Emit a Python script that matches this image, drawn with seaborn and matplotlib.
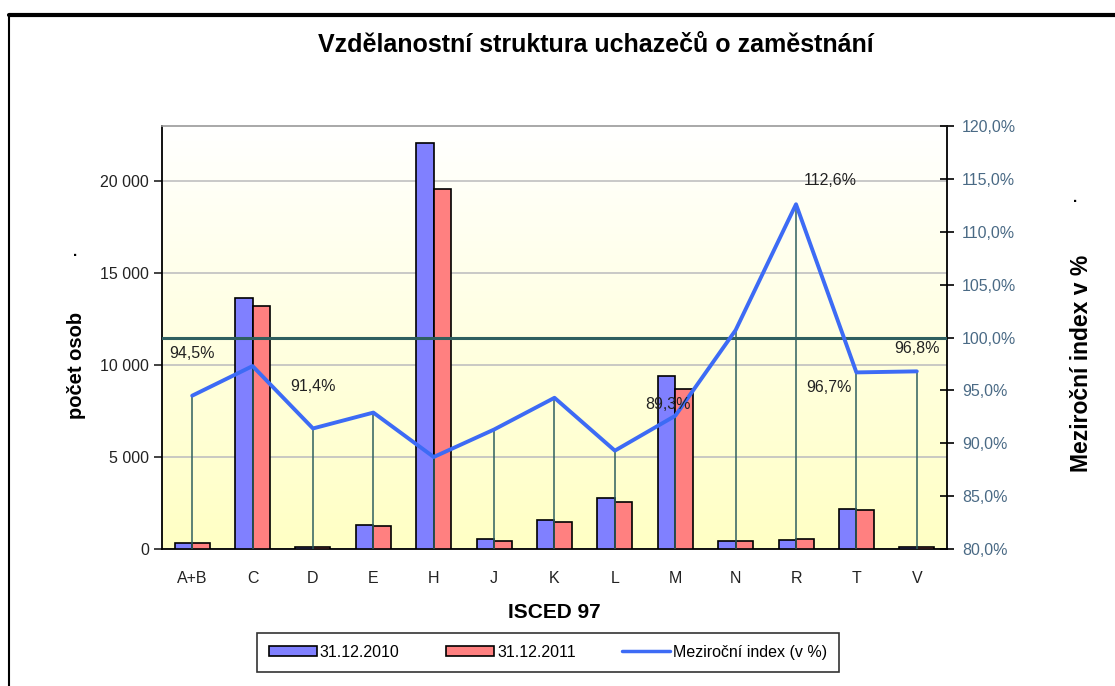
import numpy as np
import pandas as pd
import matplotlib
matplotlib.use('Agg')
import matplotlib.pyplot as plt
from matplotlib.lines import Line2D
from matplotlib.patches import Patch
from matplotlib.ticker import FuncFormatter, FixedLocator
import seaborn as sns

# Data
categories = ['A+B', 'C', 'D', 'E', 'H', 'J', 'K', 'L', 'M', 'N', 'R', 'T', 'V']
count_2010 = [350, 13650, 120, 1320, 22100, 540, 1580, 2790, 9400, 440, 470, 2190, 100]
count_2011 = [330, 13220, 110, 1230, 19560, 440, 1490, 2540, 8710, 430, 530, 2120, 95]
index_pct = [94.5, 97.3, 91.4, 92.9, 88.7, 91.3, 94.3, 89.3, 92.6, 100.7, 112.6, 96.7, 96.8]
labelled = {0: (0, 25), 2: (0, 25), 7: (38, 28), 10: (25, 12), 11: (-20, -16), 12: (0, 11)}

df = pd.DataFrame({
    'kategorie': categories * 2,
    'pocet': count_2010 + count_2011,
    'stav': ['31.12.2010'] * len(categories) + ['31.12.2011'] * len(categories),
})

sns.set_style('white')
plt.rcParams['font.family'] = ['Liberation Sans', 'DejaVu Sans']
plt.rcParams['text.color'] = 'black'
plt.rcParams['axes.labelcolor'] = 'black'

fig = plt.figure(figsize=(11.15, 6.86), dpi=100)
ax = fig.add_axes([0.1453, 0.1997, 0.704, 0.6166])

blue = '#8080FF'
red = '#FF8080'
line_col = '#3D6BF5'
teal = '#2F5F5F'

# plot area gradient, white to pale yellow
grad = np.linspace(0, 1, 256).reshape(-1, 1)
cmap = matplotlib.colors.LinearSegmentedColormap.from_list('bg', ['#FFFFFF', '#FFFFC4'])
ax.imshow(grad, extent=[-0.5, 12.5, 0, 23000], aspect='auto', cmap=cmap, origin='upper', zorder=0)

sns.barplot(data=df, x='kategorie', y='pocet', hue='stav', palette=[blue, red], saturation=1,
            width=0.58, edgecolor='black', linewidth=1.2, ax=ax, legend=False, zorder=3)

ax.set_xlim(-0.5, 12.5)
ax.set_ylim(0, 23000)
ax.set_yticks([0, 5000, 10000, 15000, 20000])
ax.yaxis.set_major_formatter(FuncFormatter(lambda v, p: f'{int(v):,}'.replace(',', ' ')))
ax.yaxis.grid(True, color='#C0C0C0', linewidth=1.2, zorder=1)
ax.set_axisbelow(True)
ax.tick_params(axis='y', labelsize=11.5, colors='#222222', length=6, width=1.2, direction='out')
ax.tick_params(axis='x', labelsize=11.5, colors='#222222', length=0, pad=16)
ax.xaxis.set_minor_locator(FixedLocator(np.arange(-0.5, 13, 1)))
ax.tick_params(axis='x', which='minor', length=6, width=1.2, direction='out', color='black')
ax.set_xlabel('ISCED 97', fontsize=15, fontweight='bold', labelpad=12)
ax.set_ylabel('počet osob', fontsize=14.5, fontweight='bold')
ax.yaxis.set_label_coords(-0.097, 0.435)
for s in ['left', 'bottom', 'right']:
    ax.spines[s].set_color('black')
    ax.spines[s].set_linewidth(1.3)
ax.spines['top'].set_color('#999999')
ax.spines['top'].set_linewidth(1.2)

# secondary axis with the year-on-year index
ax2 = ax.twinx()
x_pos = np.arange(len(categories))
ax2.vlines(x_pos, 80, index_pct, color=teal, linewidth=1.1, zorder=2)
ax2.axhline(100, color=teal, linewidth=2.2, zorder=2)
sns.lineplot(x=x_pos, y=index_pct, color=line_col, linewidth=2.8, ax=ax2, zorder=4)
ax2.set_ylim(80, 120)
ax2.set_yticks(np.arange(80, 121, 5))
ax2.yaxis.set_major_formatter(FuncFormatter(lambda v, p: f'{v:.1f}'.replace('.', ',') + '%'))
ax2.tick_params(axis='y', labelsize=11.5, colors='#4A6A85', length=10, width=1.2, direction='inout', pad=6)
ax2.tick_params(axis='y', color='black')
ax2.set_ylabel('Meziroční index v %', fontsize=16.5, fontweight='bold')
ax2.yaxis.set_label_coords(1.157, 0.44)
ax2.set_xlim(-0.5, 12.5)
for s in ax2.spines.values():
    s.set_visible(False)

for i, off in labelled.items():
    ax2.annotate(f'{index_pct[i]:.1f}'.replace('.', ',') + '%', (x_pos[i], index_pct[i]),
                 xytext=off, textcoords='offset points', ha='center', va='bottom',
                 fontsize=11.5, color='#222222', zorder=5)

fig.text(0.534, 0.934, 'Vzdělanostní struktura uchazečů o zaměstnání',
         ha='center', va='center', fontsize=18, fontweight='bold')
fig.text(0.067, 0.627, '.', fontsize=11, fontweight='bold', ha='center')
fig.text(0.964, 0.705, '.', fontsize=11, fontweight='bold', ha='center')

handles = [Patch(facecolor=blue, edgecolor='black', linewidth=1.2),
           Patch(facecolor=red, edgecolor='black', linewidth=1.2),
           Line2D([0], [0], color=line_col, linewidth=2.5)]
leg = fig.legend(handles, ['31.12.2010', '31.12.2011', 'Meziroční index (v %)'],
                 loc='center', bbox_to_anchor=(0.4915, 0.0495), ncol=3, fontsize=11.5,
                 frameon=True, fancybox=False, edgecolor='black', handlelength=3.0,
                 handleheight=0.55, columnspacing=2.9, handletextpad=0.2, borderpad=0.75,
                 borderaxespad=0)
leg.get_frame().set_linewidth(1.2)

# chart border
fig.add_artist(Line2D([0.008, 1.0], [0.978, 0.978], color='black', linewidth=3, transform=fig.transFigure))
fig.add_artist(Line2D([0.008, 0.008], [0.0, 0.978], color='black', linewidth=1.5, transform=fig.transFigure))

fig.savefig('out.png', dpi=100)
